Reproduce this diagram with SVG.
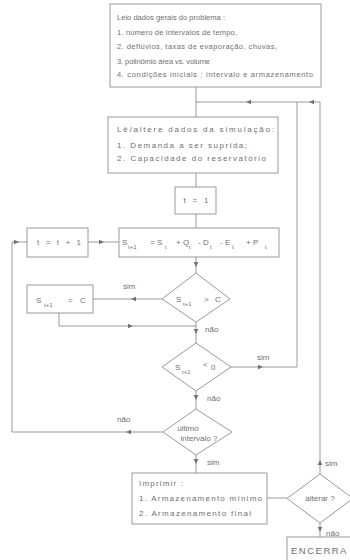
<svg xmlns="http://www.w3.org/2000/svg" xmlns:xlink="http://www.w3.org/1999/xlink" width="350" height="560" viewBox="0 0 350 560">
<style>
.b{fill:#fff;stroke:#9a9a9a;stroke-width:1}
.c{fill:none;stroke:#9a9a9a;stroke-width:1}
text{font-family:"Liberation Sans",Arial,sans-serif;font-size:8px;fill:#707070}
.t{font-size:7.5px}
.s{font-size:6px}
.e{font-size:9.5px;letter-spacing:1.5px}
.a{fill:#707070}
</style>
<defs>
<path id="ar" d="M1,0 L-4,-2.3 L-4,2.3 Z"/>
</defs>
<rect width="350" height="560" fill="#fff"/>
<g id="connectors">
<path class="c" d="M196,87 V117"/>
<path class="c" d="M320,474 V102 H196"/>
<path class="c" d="M231,367 H297 V102"/>
<path class="c" d="M196,173 V187"/>
<path class="c" d="M196,214 V228"/>
<path class="c" d="M196,257 V273"/>
<path class="c" d="M162,299 H93"/>
<path class="c" d="M59,313 V326 H196"/>
<path class="c" d="M196,322 V343"/>
<path class="c" d="M196,391 V409"/>
<path class="c" d="M163,432 H12 V242 H27"/>
<path class="c" d="M88,242 H119"/>
<path class="c" d="M196,455 V473"/>
<path class="c" d="M267,498 H287"/>
<path class="c" d="M320,523 V537"/>
<use xlink:href="#ar" class="a" transform="translate(320,461) rotate(-90)"/>
<use xlink:href="#ar" class="a" transform="translate(310,102) rotate(180)"/>
<use xlink:href="#ar" class="a" transform="translate(247,102) rotate(180)"/>
<use xlink:href="#ar" class="a" transform="translate(262,367)"/>
<use xlink:href="#ar" class="a" transform="translate(196,266) rotate(90)"/>
<use xlink:href="#ar" class="a" transform="translate(132,299) rotate(180)"/>
<use xlink:href="#ar" class="a" transform="translate(132,326)"/>
<use xlink:href="#ar" class="a" transform="translate(196,333) rotate(90)"/>
<use xlink:href="#ar" class="a" transform="translate(196,399) rotate(90)"/>
<use xlink:href="#ar" class="a" transform="translate(127,432) rotate(180)"/>
<use xlink:href="#ar" class="a" transform="translate(18,242)"/>
<use xlink:href="#ar" class="a" transform="translate(103,242)"/>
<use xlink:href="#ar" class="a" transform="translate(196,463) rotate(90)"/>
<use xlink:href="#ar" class="a" transform="translate(320,531) rotate(90)"/>
<text x="123" y="289">sim</text>
<text x="205" y="332">não</text>
<text x="257" y="360">sim</text>
<text x="207" y="401">não</text>
<text x="117" y="422">não</text>
<text x="207" y="465">sim</text>
<text x="325" y="466">sim</text>
<text x="326" y="536">não</text>
</g>
<g id="n-dados">
<rect class="b" x="110" y="4" width="211" height="83"/>
<text class="t" x="117" y="20" textLength="108" lengthAdjust="spacing">Leio dados gerais do problema :</text>
<text class="t" x="117" y="35" textLength="120" lengthAdjust="spacing">1. número de intervalos de tempo,</text>
<text class="t" x="117" y="49" textLength="160" lengthAdjust="spacing">2. deflúvios, taxas de evaporação, chuvas,</text>
<text class="t" x="117" y="64" textLength="93" lengthAdjust="spacing">3. polinômio área vs. volume</text>
<text class="t" x="117" y="77" textLength="196" lengthAdjust="spacing">4. condições iniciais : intervalo e armazenamento</text>
</g>
<g id="n-simul">
<rect class="b" x="108" y="117" width="170" height="56"/>
<text x="117" y="132" textLength="157" lengthAdjust="spacing">Lê/altere dados da simulação:</text>
<text x="117" y="148" textLength="130" lengthAdjust="spacing">1. Demanda a ser suprida;</text>
<text x="117" y="161" textLength="149" lengthAdjust="spacing">2. Capacidade do reservatório</text>
</g>
<g id="n-t1">
<rect class="b" x="175" y="187" width="41" height="27"/>
<text x="196" y="203" text-anchor="middle" textLength="25" lengthAdjust="spacing">t = 1</text>
</g>
<g id="n-inc">
<rect class="b" x="27" y="228" width="61" height="29"/>
<text x="59" y="245" text-anchor="middle" textLength="44" lengthAdjust="spacing">t = t + 1</text>
</g>
<g id="n-balanco">
<rect class="b" x="119" y="228" width="160" height="29"/>
<text y="245"><tspan x="122">S</tspan><tspan class="s" x="128" dy="4">t+1</tspan><tspan x="150" dy="-4">= S</tspan><tspan class="s" x="165" dy="4">t</tspan><tspan x="176" dy="-4">+ Q</tspan><tspan class="s" x="189" dy="4">t</tspan><tspan x="198" dy="-4">- D</tspan><tspan class="s" x="210" dy="4">t</tspan><tspan x="220" dy="-4">- E</tspan><tspan class="s" x="232" dy="4">t</tspan><tspan x="246" dy="-4">+ P</tspan><tspan class="s" x="265" dy="4">t</tspan></text>
</g>
<g id="n-maior">
<polygon class="b" points="196,273 230,299 196,322 162,299"/>
<text y="302"><tspan x="176">S</tspan><tspan class="s" x="183" dy="4">t+1</tspan><tspan x="204" dy="-4">&gt;</tspan><tspan x="215">C</tspan></text>
</g>
<g id="n-igualC">
<rect class="b" x="27" y="285" width="66" height="28"/>
<text y="303"><tspan x="36">S</tspan><tspan class="s" x="44" dy="4">t+1</tspan><tspan x="68" dy="-4">=</tspan><tspan x="80">C</tspan></text>
</g>
<g id="n-menor">
<polygon class="b" points="196,343 231,367 196,391 162,367"/>
<text y="370"><tspan x="175">S</tspan><tspan class="s" x="182" dy="4">t+1</tspan><tspan x="203" dy="-7">&lt;</tspan><tspan x="211" dy="3">0</tspan></text>
</g>
<g id="n-ultimo">
<polygon class="b" points="196,409 232,432 196,455 163,432"/>
<text x="188" y="431" text-anchor="middle">último</text>
<text x="199" y="441" text-anchor="middle">intervalo ?</text>
</g>
<g id="n-imprimir">
<rect class="b" x="132" y="473" width="135" height="51"/>
<text x="139" y="486" textLength="44" lengthAdjust="spacing">Imprimir :</text>
<text x="139" y="501" textLength="123" lengthAdjust="spacing">1. Armazenamento mínimo</text>
<text x="139" y="516" textLength="112" lengthAdjust="spacing">2. Armazenamento final</text>
</g>
<g id="n-alterar">
<polygon class="b" points="320,474 353,498.5 320,523 287,498.5"/>
<text x="320" y="501" text-anchor="middle">alterar ?</text>
</g>
<g id="n-encerra">
<rect class="b" x="287" y="537" width="70" height="30"/>
<text x="291" y="554" class="e">ENCERRA</text>
</g>
</svg>
